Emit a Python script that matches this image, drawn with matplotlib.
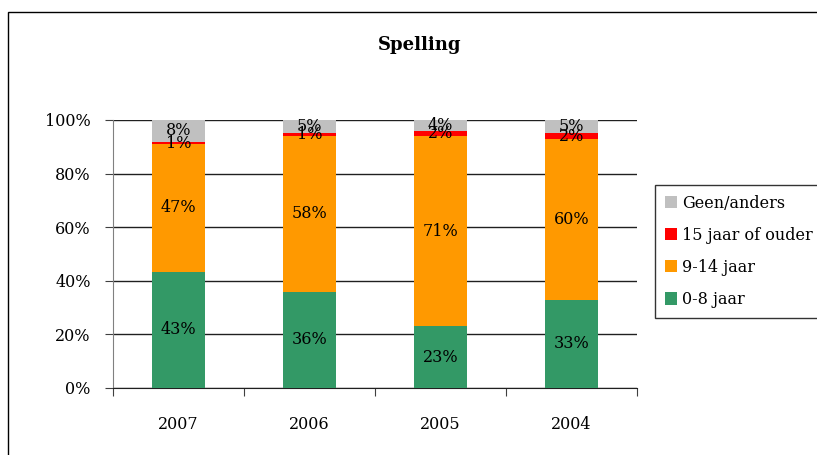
import matplotlib
matplotlib.use("Agg")
import matplotlib.pyplot as plt
import numpy as np
from matplotlib.patches import Rectangle

years = ["2007", "2006", "2005", "2004"]
series_names = ["0-8 jaar", "9-14 jaar", "15 jaar of ouder", "Geen/anders"]
v_0_8 = [43, 36, 23, 33]
v_9_14 = [47, 58, 71, 60]
v_15 = [1, 1, 2, 2]
v_geen = [8, 5, 4, 5]
colors = ["#339966", "#FF9900", "#FF0000", "#C0C0C0"]
yticks = [0, 20, 40, 60, 80, 100]
ytick_labels = ["0%", "20%", "40%", "60%", "80%", "100%"]

plt.rcParams['font.family'] = ['DejaVu Serif']

fig = plt.figure(figsize=(8.17, 4.55), dpi=100)
# outer chart frame
fig.patches.append(Rectangle((8/817, -0.1), 1.2, 1.1 - 12/455, transform=fig.transFigure,
                             fill=False, edgecolor="#000000", linewidth=1.0))

ax = fig.add_axes([113/817, 1-388/455, 524/817, 268/455])

data = np.array([v_0_8, v_9_14, v_15, v_geen], dtype=float)
totals = data.sum(axis=0)
pct = data / totals * 100
x = np.arange(len(years))
bottom = np.zeros(len(years))
handles = []
for i, name in enumerate(series_names):
    b = ax.bar(x, pct[i], 0.405, bottom=bottom, color=colors[i], label=name, zorder=3)
    handles.append(b)
    for xi, (bt, h, raw) in enumerate(zip(bottom, pct[i], data[i])):
        ax.text(xi, bt + h/2, f"{int(raw)}%", ha="center", va="center",
                fontsize=11.5, color="#000000", zorder=4)
    bottom += pct[i]

ax.set_xlim(-0.5, len(years) - 0.5)
ax.set_ylim(0, 100)
ax.set_yticks(yticks)
ax.set_yticklabels(ytick_labels, fontsize=11.5)
ax.set_xticks(np.arange(-0.5, len(years), 1.0))
ax.set_xticklabels([])
ax.set_xticks(x, minor=True)
ax.set_xticklabels(years, minor=True, fontsize=11.5)
ax.tick_params(axis="x", which="minor", length=0, pad=20)
ax.tick_params(axis="x", which="major", length=6, direction="out", color="#404040")
ax.tick_params(axis="y", length=6, direction="out", pad=10, color="#404040")
ax.yaxis.grid(True, color="#202020", linewidth=1.0, zorder=0)
ax.set_axisbelow(True)
for s in ["top", "right"]:
    ax.spines[s].set_visible(False)
ax.spines["left"].set_color("#808080")
ax.spines["bottom"].set_color("#202020")

fig.text(420/817, 1-45/455, "Spelling", ha="center", va="center", fontsize=13, fontweight="bold")

leg = fig.legend(handles[::-1], series_names[::-1], loc="upper left",
                 bbox_to_anchor=(655/817, 1-185/455), frameon=True, fancybox=False,
                 edgecolor="#000000", fontsize=11.5, handlelength=0.8, handleheight=0.8,
                 handletextpad=0.3, labelspacing=0.95, borderpad=0.6, borderaxespad=0)
leg.get_frame().set_linewidth(1.0)

fig.savefig("out.png", dpi=100)
